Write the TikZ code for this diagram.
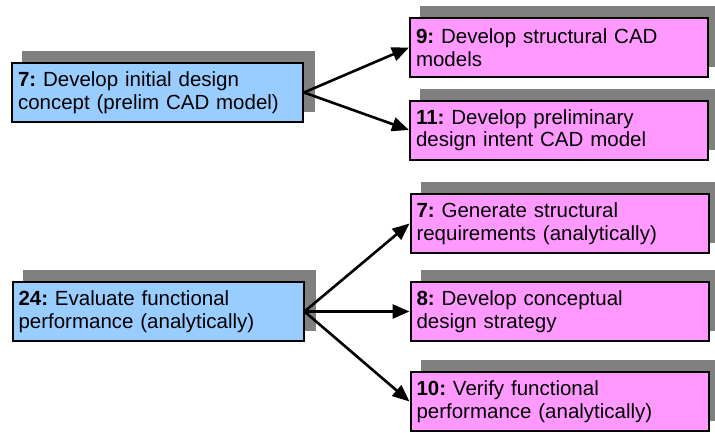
\documentclass[tikz,border=0pt]{standalone}
\usepackage{fontspec}
\setmainfont{Liberation Sans}
\frenchspacing
\usetikzlibrary{positioning, backgrounds, arrows.meta}
\definecolor{taskblue}{RGB}{153,204,255}
\definecolor{taskpink}{RGB}{255,153,255}
\begin{document}
\begin{tikzpicture}[x=1pt, y=1pt, node distance=88pt and 401pt, on grid,
    task/.style={draw=black, line width=2pt, align=left, inner xsep=6pt,
      minimum height=59pt, font=\fontsize{20.5}{22.5}\selectfont},
    from/.style={task, fill=taskblue, text width=279pt},
    to/.style={task, fill=taskpink, text width=286pt},
    flow/.style={-{Triangle[length=17pt, width=14pt]}, line width=2.6pt}]
  \useasboundingbox (0,0) rectangle (715,-432);
  % upper group
  \node[from] (concept) at (157.5,-92.5) {\textbf{7:} Develop initial design\\concept (prelim CAD model)};
  \node[to] (cad9) [above right=45pt and 401.5pt of concept] {\textbf{9:} Develop structural CAD\\models};
  \node[to] (cad11) [below right=37.5pt and 401.5pt of concept] {\textbf{11:} Develop preliminary\\design intent CAD model};
  % lower group
  \node[from] (evaluate) at (158,-311.5) {\textbf{24:} Evaluate functional\\performance (analytically)};
  \node[to] (req8) [right=401.5pt of evaluate] {\textbf{8:} Develop conceptual\\design strategy};
  \node[to] (gen7) [above=88pt of req8] {\textbf{7:} Generate structural\\requirements (analytically)};
  \node[to] (ver10) [below=90pt of req8] {\textbf{10:} Verify functional\\performance (analytically)};
  % shadows
  \begin{scope}[on background layer]
    \foreach \n in {concept, cad9, cad11, evaluate, gen7, req8, ver10}
      \fill[gray] ([shift={(11,11)}]\n.south west) rectangle ([shift={(11,11)}]\n.north east);
  \end{scope}
  \path[flow]
  (concept.east) edge (cad9.west)
                 edge (cad11.west)
  (evaluate.east) edge (gen7.west)
                  edge (req8.west)
                  edge (ver10.west)
  ;
\end{tikzpicture}
\end{document}
